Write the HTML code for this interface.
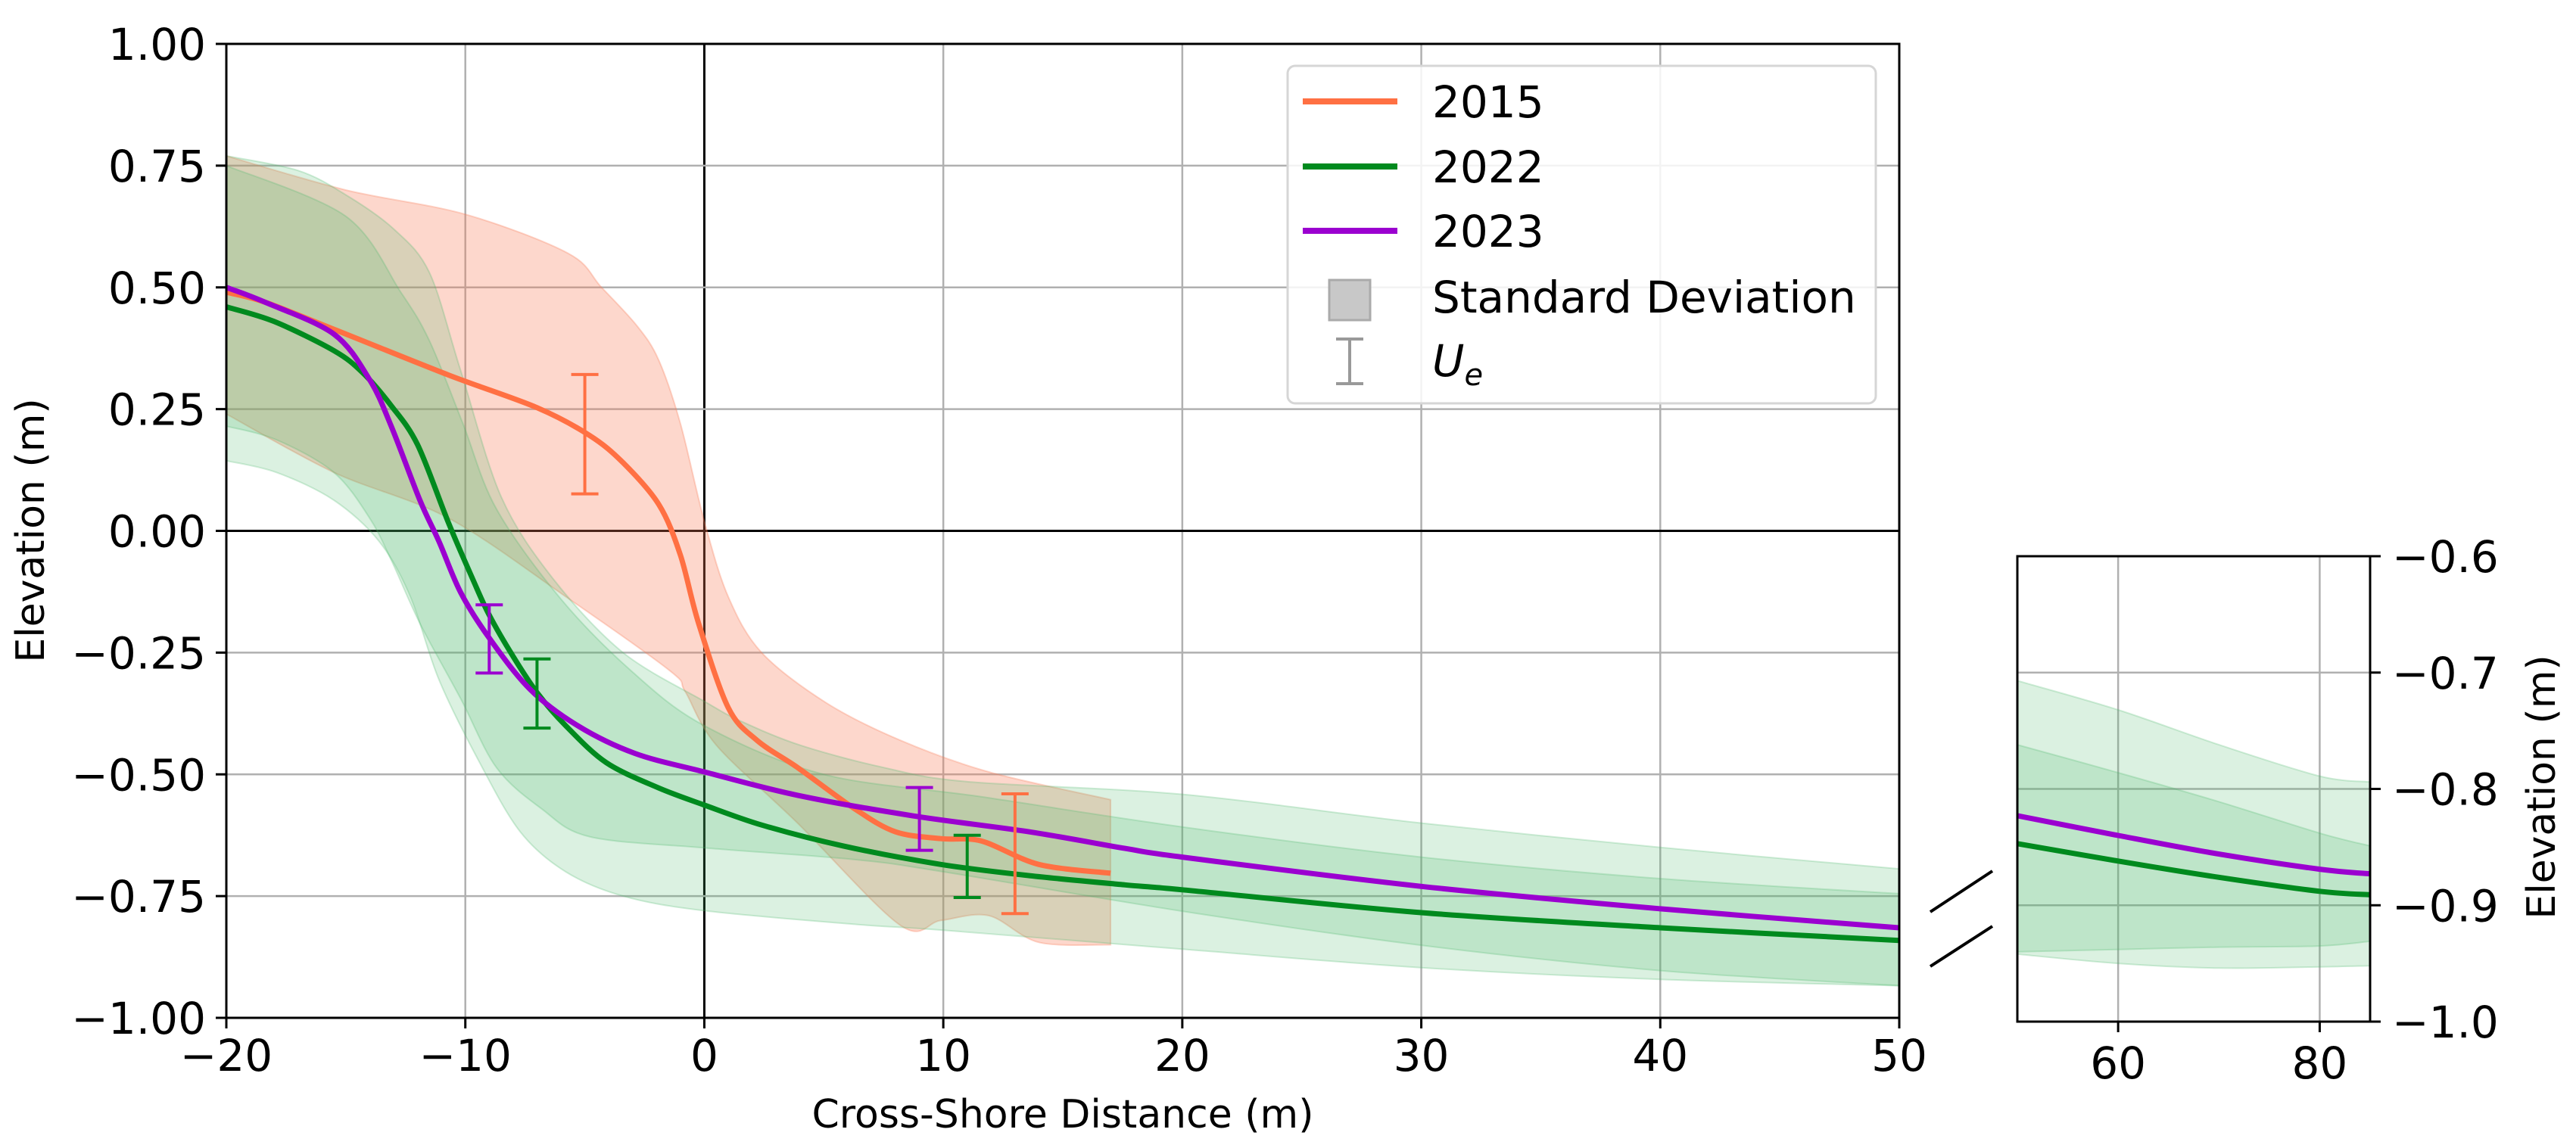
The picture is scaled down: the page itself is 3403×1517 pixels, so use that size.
<!DOCTYPE html>
<html><head><meta charset="utf-8"><style>
html,body{margin:0;padding:0;background:#fff;}
svg{display:block;font-family:"DejaVu Sans","Liberation Sans",sans-serif;}
</style></head><body>
<svg id="chart" width="3403" height="1517" viewBox="0 0 3403 1517" xmlns="http://www.w3.org/2000/svg">
<defs>
<clipPath id="mainClip"><rect x="299" y="58" width="2210" height="1287"/></clipPath>
<clipPath id="insetClip"><rect x="2665" y="735" width="466" height="615"/></clipPath>
</defs>
<g id="mainGrid"></g>
<g id="mainBands" clip-path="url(#mainClip)"></g>
<g id="mainLines" clip-path="url(#mainClip)"></g>
<g id="mainAxes"></g>
<g id="insetGrid"></g>
<g id="insetBands" clip-path="url(#insetClip)"></g>
<g id="insetLines" clip-path="url(#insetClip)"></g>
<g id="insetAxes"></g>
<g stroke="#000" stroke-width="4">
<line x1="2550" y1="1205" x2="2632" y2="1151"/>
<line x1="2550" y1="1277" x2="2632" y2="1224"/>
</g>
<text x="0" y="0" font-size="52" text-anchor="middle" transform="translate(58,701) rotate(-90)">Elevation (m)</text>
<text x="1404" y="1490" font-size="52" text-anchor="middle">Cross-Shore Distance (m)</text>
<text x="0" y="0" font-size="52" text-anchor="middle" transform="translate(3375,1040) rotate(-90)">Elevation (m)</text>
<g>
<rect x="1701" y="87" width="777" height="446" rx="10" fill="#fff" fill-opacity="0.85" stroke="#d6d6d6" stroke-width="3"/>
<line x1="1721" y1="134" x2="1846" y2="134" stroke="#ff7043" stroke-width="8"/>
<text x="1892" y="155" font-size="58">2015</text>
<line x1="1721" y1="220" x2="1846" y2="220" stroke="#008a1e" stroke-width="8"/>
<text x="1892" y="241" font-size="58">2022</text>
<line x1="1721" y1="305" x2="1846" y2="305" stroke="#9b00d0" stroke-width="8"/>
<text x="1892" y="326" font-size="58">2023</text>
<rect x="1756" y="370" width="54" height="53" fill="#c8c8c8" stroke="#aaa" stroke-width="3"/>
<text x="1892" y="413" font-size="58">Standard Deviation</text>
<g stroke="#999" stroke-width="4"><line x1="1783" y1="448" x2="1783" y2="507"/><line x1="1765" y1="448" x2="1801" y2="448"/><line x1="1765" y1="507" x2="1801" y2="507"/></g>
<text x="1892" y="497" font-size="58" font-style="italic">U<tspan font-size="40" dy="12">e</tspan></text>
</g>
</svg>
<script>
// ---------- main data ----------
const xTicks = [-20,-10,0,10,20,30,40,50];
const yTicks = [1.00,0.75,0.50,0.25,0.00,-0.25,-0.50,-0.75,-1.00];
const yTickLabels = ["1.00","0.75","0.50","0.25","0.00","\u22120.25","\u22120.50","\u22120.75","\u22121.00"];

const x2015 = [-20,-18.4,-15.5,-10.7,-7,-4.8,-3.4,-1.9,-1,-0.24,1,2.2,3.9,6.3,8,9.9,11.6,14,17];
const y2015 = [0.49,0.47,0.414,0.32,0.253,0.196,0.14,0.054,-0.05,-0.19,-0.363,-0.43,-0.486,-0.571,-0.618,-0.632,-0.637,-0.685,-0.703];
const x2022 = [-20,-18,-15.5,-14.3,-13.1,-12,-10.7,-9.7,-9,-8,-7,-5.8,-4.1,-1.9,0,2.4,5.8,9.9,13.6,17.6,20,30,40,50];
const y2022 = [0.46,0.43,0.37,0.325,0.257,0.177,0.016,-0.098,-0.173,-0.258,-0.332,-0.40,-0.476,-0.528,-0.563,-0.604,-0.647,-0.685,-0.708,-0.727,-0.737,-0.784,-0.815,-0.841];
const x2023 = [-20,-18.4,-15.5,-14,-13.1,-11.9,-11.1,-10.2,-9,-7.3,-5.3,-2.9,0,3.9,8.7,13.6,17.6,20,30,40,50];
const y2023 = [0.50,0.47,0.404,0.31,0.215,0.063,-0.022,-0.126,-0.22,-0.325,-0.40,-0.457,-0.495,-0.543,-0.585,-0.618,-0.652,-0.670,-0.73,-0.776,-0.815];

const xOrangeUpper = [-20,-15,-10,-5.7,-4.3,-2.8,-1.9,-1,0,1,2.4,5.1,8.2,11.9,17];
const yOrangeUpper = [0.77,0.70,0.65,0.57,0.50,0.42,0.35,0.22,0.02,-0.135,-0.25,-0.353,-0.43,-0.495,-0.552];
const xOrangeLower = [-20,-15.5,-10.7,-5.8,-1.45,-0.8,0.5,3.9,8.2,9.9,11.9,14,17];
const yOrangeLower = [0.24,0.12,0.026,-0.135,-0.287,-0.33,-0.44,-0.6,-0.81,-0.80,-0.79,-0.845,-0.85];

const xG1Upper = [-20,-17,-15,-13,-11.5,-10.2,-8.5,-6.3,-3.4,0,1.5,4,7.5,11,20,30,40,50];
const yG1Upper = [0.77,0.74,0.69,0.62,0.53,0.33,0.07,-0.10,-0.25,-0.35,-0.39,-0.44,-0.486,-0.515,-0.541,-0.60,-0.65,-0.694];
const xG1Lower = [-20,-17.9,-15.5,-14,-13.1,-11.9,-10.2,-8.7,-6.8,-4.8,0,6.3,10,20,30,40,50];
const yG1Lower = [0.215,0.187,0.12,0.026,-0.06,-0.19,-0.344,-0.486,-0.571,-0.628,-0.651,-0.675,-0.70,-0.781,-0.851,-0.903,-0.934];
const xG2Upper = [-20,-15,-12.7,-11.5,-10.1,-8.7,-6,-3,0,5,11.6,20,30,40,50];
const yG2Upper = [0.75,0.646,0.49,0.39,0.22,0.045,-0.14,-0.29,-0.40,-0.50,-0.546,-0.608,-0.67,-0.714,-0.745];
const xG2Lower = [-20,-17.9,-15.5,-13.6,-12.3,-11.1,-9.4,-7.7,-5.8,-3.4,0,6.3,10,20,30,40,50];
const yG2Lower = [0.144,0.12,0.063,-0.022,-0.135,-0.306,-0.476,-0.618,-0.70,-0.75,-0.78,-0.808,-0.82,-0.859,-0.897,-0.921,-0.934];

const errX = [-5,-9,-7,9,11,13];
const errLow = [0.076,-0.292,-0.405,-0.656,-0.753,-0.786];
const errHigh = [0.321,-0.152,-0.263,-0.527,-0.625,-0.54];
const errSeries = ["2015","2023","2022","2023","2022","2015"];

// ---------- inset data ----------
const insetXTicks = [60,80];
const insetYTicks = [-0.6,-0.7,-0.8,-0.9,-1.0];
const insetYTickLabels = ["\u22120.6","\u22120.7","\u22120.8","\u22120.9","\u22121.0"];
const insetX = [50,60,70,80,85];
const inset2022 = [-0.847,-0.862,-0.876,-0.888,-0.891];
const inset2023 = [-0.823,-0.84,-0.856,-0.869,-0.873];
const insetG1Upper = [-0.707,-0.732,-0.762,-0.789,-0.794];
const insetG1Lower = [-0.94,-0.938,-0.936,-0.935,-0.931];
const insetG2Upper = [-0.762,-0.786,-0.811,-0.838,-0.849];
const insetG2Lower = [-0.942,-0.95,-0.954,-0.953,-0.952];

const colors = {"2015":"#ff7043","2022":"#008a1e","2023":"#9b00d0"};
const NS = "http://www.w3.org/2000/svg";

function mx(x){ return 299 + (x + 20) * (2210/70); }
function my(y){ return 701.5 - y * 643.5; }
function ix(x){ return 2665 + (x - 50) * (466/35); }
function iy(y){ return 735 + (-0.6 - y) * (615/0.4); }

function mk(tag, attrs, parent){
  const el = document.createElementNS(NS, tag);
  for (const k in attrs) el.setAttribute(k, attrs[k]);
  parent.appendChild(el);
  return el;
}
function toPts(xs, ys, fx, fy){ return xs.map((x,i)=>[fx(x), fy(ys[i])]); }
// Catmull-Rom smoothing -> cubic bezier segments (no leading M)
function smoothSeg(p){
  let d = "";
  for (let i = 0; i < p.length - 1; i++){
    const p0 = p[i-1] || p[i], p1 = p[i], p2 = p[i+1], p3 = p[i+2] || p2;
    const t = 0.16;
    const c1x = p1[0] + (p2[0]-p0[0])*t, c1y = p1[1] + (p2[1]-p0[1])*t;
    const c2x = p2[0] - (p3[0]-p1[0])*t, c2y = p2[1] - (p3[1]-p1[1])*t;
    d += " C" + c1x.toFixed(1)+","+c1y.toFixed(1)+" "+c2x.toFixed(1)+","+c2y.toFixed(1)+" "+p2[0].toFixed(1)+","+p2[1].toFixed(1);
  }
  return d;
}
function linePath(xs, ys, fx, fy){
  const p = toPts(xs, ys, fx, fy);
  return "M" + p[0][0].toFixed(1) + "," + p[0][1].toFixed(1) + smoothSeg(p);
}
function bandPath(xu, yu, xl, yl, fx, fy){
  const up = toPts(xu, yu, fx, fy);
  const lo = toPts(xl, yl, fx, fy).reverse();
  return "M" + up[0][0].toFixed(1) + "," + up[0][1].toFixed(1) + smoothSeg(up) +
    " L" + lo[0][0].toFixed(1) + "," + lo[0][1].toFixed(1) + smoothSeg(lo) + " Z";
}

const g = id => document.getElementById(id);

xTicks.forEach(t => {
  const l = mk("line", {x1:mx(t), x2:mx(t), y1:58, y2:1345, stroke: t===0 ? "#000" : "#b0b0b0", "stroke-width": t===0 ? 3 : 2.5}, g("mainGrid"));
  
  
});
yTicks.forEach(t => {
  const l = mk("line", {x1:299, x2:2509, y1:my(t), y2:my(t), stroke: t===0 ? "#000" : "#b0b0b0", "stroke-width": t===0 ? 3 : 2.5}, g("mainGrid"));
  
  
});

const bO = mk("path", {d: bandPath(xOrangeUpper,yOrangeUpper,xOrangeLower,yOrangeLower,mx,my), fill:"#fa7a55", "fill-opacity":0.3, stroke:"#fa7a55", "stroke-opacity":0.3, "stroke-width":2}, g("mainBands"));


const b1 = mk("path", {d: bandPath(xG1Upper,yG1Upper,xG1Lower,yG1Lower,mx,my), fill:"#4cb86a", "fill-opacity":0.2, stroke:"#4cb86a", "stroke-opacity":0.25, "stroke-width":2}, g("mainBands"));


const b2 = mk("path", {d: bandPath(xG2Upper,yG2Upper,xG2Lower,yG2Lower,mx,my), fill:"#4cb86a", "fill-opacity":0.2, stroke:"#4cb86a", "stroke-opacity":0.25, "stroke-width":2}, g("mainBands"));



[[x2015,y2015,"2015"],[x2022,y2022,"2022"],[x2023,y2023,"2023"]].forEach(s => {
  const p = mk("path", {d: linePath(s[0],s[1],mx,my), fill:"none", stroke:colors[s[2]], "stroke-width":7, "stroke-linejoin":"round"}, g("mainLines"));
  
  
});

errX.forEach((x,i) => {
  const c = colors[errSeries[i]];
  const eg = mk("g", {stroke:c, "stroke-width":4}, g("mainLines"));
  
  
  mk("line", {x1:mx(x), x2:mx(x), y1:my(errLow[i]), y2:my(errHigh[i])}, eg);
  mk("line", {x1:mx(x)-18, x2:mx(x)+18, y1:my(errLow[i]), y2:my(errLow[i])}, eg);
  mk("line", {x1:mx(x)-18, x2:mx(x)+18, y1:my(errHigh[i]), y2:my(errHigh[i])}, eg);
});

const frame = mk("rect", {x:299, y:58, width:2210, height:1287, fill:"none", stroke:"#000", "stroke-width":3}, g("mainAxes"));


xTicks.forEach(t => {
  mk("line", {x1:mx(t), x2:mx(t), y1:1345, y2:1359, stroke:"#000", "stroke-width":3}, g("mainAxes"));
  const tx = mk("text", {x:mx(t), y:1415, "font-size":58, "text-anchor":"middle"}, g("mainAxes"));
  tx.textContent = t < 0 ? "\u2212" + Math.abs(t) : String(t);
  
  
});
yTicks.forEach((t,i) => {
  mk("line", {x1:285, x2:299, y1:my(t), y2:my(t), stroke:"#000", "stroke-width":3}, g("mainAxes"));
  const tx = mk("text", {x:272, y:my(t)+21, "font-size":58, "text-anchor":"end"}, g("mainAxes"));
  tx.textContent = yTickLabels[i];
  
  
});

insetXTicks.forEach(t => {
  const l = mk("line", {x1:ix(t), x2:ix(t), y1:735, y2:1350, stroke:"#b0b0b0", "stroke-width":2.5}, g("insetGrid"));
  
  
});
insetYTicks.forEach(t => {
  const l = mk("line", {x1:2665, x2:3131, y1:iy(t), y2:iy(t), stroke:"#b0b0b0", "stroke-width":2.5}, g("insetGrid"));
  
  
});

const ib1 = mk("path", {d: bandPath(insetX,insetG1Upper,insetX,insetG1Lower,ix,iy), fill:"#4cb86a", "fill-opacity":0.2, stroke:"#4cb86a", "stroke-opacity":0.25, "stroke-width":2}, g("insetBands"));


const ib2 = mk("path", {d: bandPath(insetX,insetG2Upper,insetX,insetG2Lower,ix,iy), fill:"#4cb86a", "fill-opacity":0.2, stroke:"#4cb86a", "stroke-opacity":0.25, "stroke-width":2}, g("insetBands"));


[[inset2022,"2022"],[inset2023,"2023"]].forEach(s => {
  const p = mk("path", {d: linePath(insetX,s[0],ix,iy), fill:"none", stroke:colors[s[1]], "stroke-width":7, "stroke-linejoin":"round"}, g("insetLines"));
  
  
});

const iframe = mk("rect", {x:2665, y:735, width:466, height:615, fill:"none", stroke:"#000", "stroke-width":3}, g("insetAxes"));


insetXTicks.forEach(t => {
  mk("line", {x1:ix(t), x2:ix(t), y1:1350, y2:1364, stroke:"#000", "stroke-width":3}, g("insetAxes"));
  const tx = mk("text", {x:ix(t), y:1425, "font-size":58, "text-anchor":"middle"}, g("insetAxes"));
  tx.textContent = String(t);
  
  
});
insetYTicks.forEach((t,i) => {
  mk("line", {x1:3131, x2:3145, y1:iy(t), y2:iy(t), stroke:"#000", "stroke-width":3}, g("insetAxes"));
  const tx = mk("text", {x:3160, y:iy(t)+21, "font-size":58, "text-anchor":"start"}, g("insetAxes"));
  tx.textContent = insetYTickLabels[i];
  
  
});
</script>
</body></html>
